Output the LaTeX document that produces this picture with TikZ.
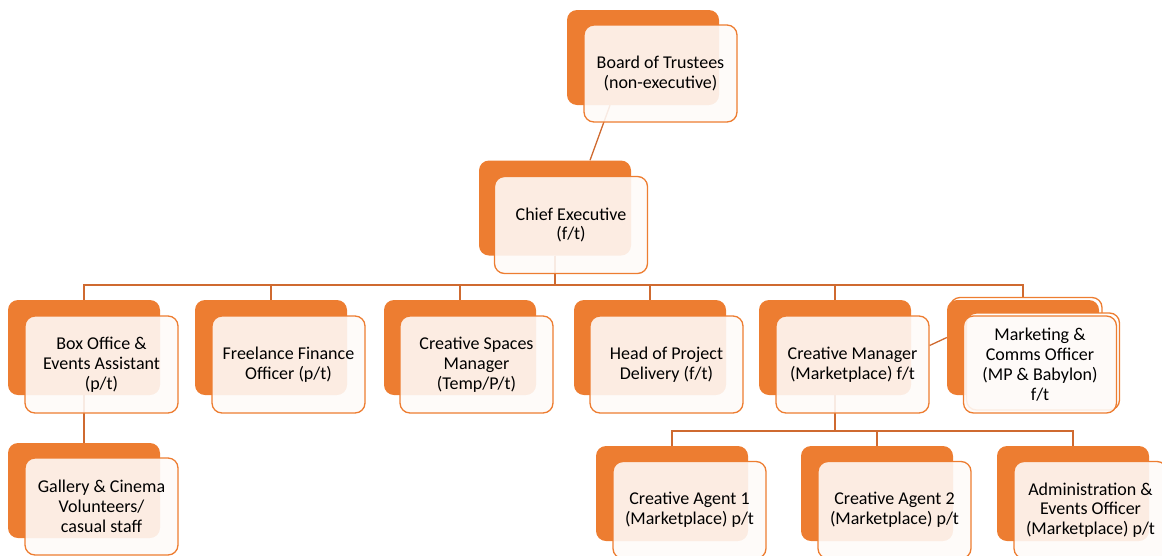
\documentclass[tikz,border=0pt]{standalone}
\usepackage{fontspec}
\setmainfont{Carlito}
\usetikzlibrary{backgrounds}

\definecolor{accent}{HTML}{ED7D31}
\definecolor{paper}{HTML}{FEFAF8}
\definecolor{wire}{HTML}{CF6A30}

\begin{document}
\begin{tikzpicture}[x=1pt,y=-1pt,
      roleback/.style ={rectangle, rounded corners=10pt, fill=accent,
        minimum width=152pt, minimum height=95pt, inner sep=0pt},
      role/.style ={rectangle, rounded corners=10pt, draw=accent, line width=1.3pt,
        fill=paper, fill opacity=0.89, text opacity=1,
        minimum width=153pt, minimum height=97pt, inner sep=0pt,
        align=center, font=\fontsize{18}{19.8}\selectfont},
      rolestack/.style ={rectangle, rounded corners=10pt, draw=accent, line width=1.3pt,
        fill=white, minimum width=152pt, minimum height=95pt, inner sep=0pt},
      link/.style ={draw=wire, line width=1.3pt}]

   \useasboundingbox (0,0) rectangle (1162,555);

   % top of the tree
   \node[roleback] (boardB) at (643,57.5) {};
   \node[role]     (board)  at (660.5,73.5) {Board of Trustees\\(non-executive)};
   \node[roleback] (ceoB)   at (555,208) {};
   \node[role]     (ceo)    at (571,225) {Chief Executive\\(f/t)};

   % direct reports
   \node[roleback] (boxB) at (84,347.5) {};
   \node[role]     (box)  at (101.5,364.5) {Box Office \&\\Events Assistant\\(p/t)};
   \node[roleback] (finB) at (271,347.5) {};
   \node[role]     (fin)  at (288.5,364.5) {Freelance Finance\\Officer (p/t)};
   \node[roleback] (spcB) at (460,347.5) {};
   \node[role]     (spc)  at (476.5,364.5) {Creative Spaces\\Manager\\(Temp/P/t)};
   \node[roleback] (prjB) at (650,347.5) {};
   \node[role]     (prj)  at (666.5,364.5) {Head of Project\\Delivery (f/t)};
   \node[roleback] (crmB) at (835,347.5) {};
   \node[role]     (crm)  at (852.5,364.5) {Creative Manager\\(Marketplace) f/t};
   \node[rolestack] (mktS)  at (1026,345) {};
   \node[roleback]  (mktB)  at (1023,347.5) {};
   \node[rolestack, minimum width=153pt, minimum height=97pt] (mktT) at (1043,361.5) {};
   \node[role]      (mkt)   at (1040,364.5) {Marketing \&\\Comms Officer\\(MP \& Babylon)\\f/t};

   % third level
   \node[roleback] (galB) at (84,490.5) {};
   \node[role]     (gal)  at (101.5,506.5) {Gallery \& Cinema\\Volunteers/\\casual staff};
   \node[roleback] (ag1B) at (672,493.5) {};
   \node[role]     (ag1)  at (689.5,510) {Creative Agent 1\\(Marketplace) p/t};
   \node[roleback] (ag2B) at (877,493.5) {};
   \node[role]     (ag2)  at (894.5,510) {Creative Agent 2\\(Marketplace) p/t};
   \node[roleback] (admB) at (1073,493.5) {};
   \node[role]     (adm)  at (1090.5,510) {Administration \&\\Events Officer\\(Marketplace) p/t};

   \coordinate (bus1) at (0,285);
   \coordinate (bus2) at (0,431);

   \begin{pgfonlayer}{background}
   \draw[link] ([xshift=-33pt]boardB.south) -- ([xshift=35pt]ceoB.north);
   \foreach \n in {boxB,finB,spcB,prjB,crmB,mktB}
      \draw[link] (ceoB) -- (ceoB |- bus1) -| (\n);
   \draw[link] (boxB) -- (galB);
   \foreach \n in {ag1B,ag2B,admB}
      \draw[link] (crmB) -- (crmB |- bus2) -| (\n);
   \end{pgfonlayer}
   \draw[link] ([yshift=19pt]crm.east) -- ([yshift=10pt]mktB.west);
 \end{tikzpicture}
\end{document}
